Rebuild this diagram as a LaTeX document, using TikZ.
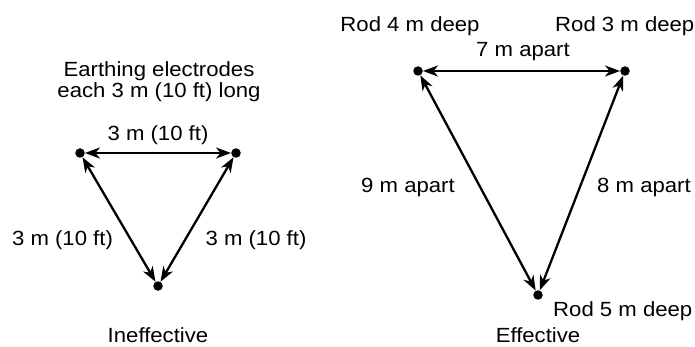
\documentclass[tikz,border=0pt]{standalone}
\usepackage{fontspec}
\setmainfont{Liberation Sans}[FakeStretch=1.08]
\usetikzlibrary{arrows.meta}
\tikzset{
  dot/.style={circle,fill=black,inner sep=0pt,minimum size=9.5pt},
  lbl/.style={inner sep=0pt,anchor=base,font=\fontsize{20.5}{24}\selectfont},
  lblw/.style={lbl,anchor=base west},
  dim/.style={line width=2.3pt,{Stealth[length=15pt,width=11pt,inset=4.5pt]}-{Stealth[length=15pt,width=11pt,inset=4.5pt]}}
}
\begin{document}
\begin{tikzpicture}[x=1pt,y=-1pt]
\useasboundingbox (0,0) rectangle (695,347);
% left triangle
\node[dot] (a1) at (80,153) {};
\node[dot] (a2) at (236,153) {};
\node[dot] (a3) at (158,286) {};
\draw[dim] (a1) -- (a2);
\draw[dim] (a1) -- (a3);
\draw[dim] (a2) -- (a3);
\node[lbl] (t1) at (159,77) {Earthing electrodes};
\node[lbl] (t2) at (159,97.5) {each 3 m (10 ft) long};
\node[lbl] (l1) at (158,140.5) {3 m (10 ft)};
\node[lbl] (l2) at (62.5,245) {3 m (10 ft)};
\node[lbl] (l3) at (256,245) {3 m (10 ft)};
\node[lbl] (c1) at (158,342) {Ineffective};
% right triangle
\node[dot] (b1) at (418,71) {};
\node[dot] (b2) at (625,71) {};
\node[dot] (b3) at (538,295) {};
\draw[dim] (b1) -- (b2);
\draw[dim] (b1) -- (b3);
\draw[dim] (b2) -- (b3);
\node[lbl] (r1) at (410,32) {Rod 4 m deep};
\node[lblw] (r2) at (555,32) {Rod 3 m deep};
\node[lbl] (m1) at (523,56.5) {7 m apart};
\node[lbl] (m2) at (408,193) {9 m apart};
\node[lblw] (m3) at (597,193) {8 m apart};
\node[lblw] (r3) at (553,316.5) {Rod 5 m deep};
\node[lbl] (c2) at (538,342) {Effective};
\end{tikzpicture}
\end{document}
